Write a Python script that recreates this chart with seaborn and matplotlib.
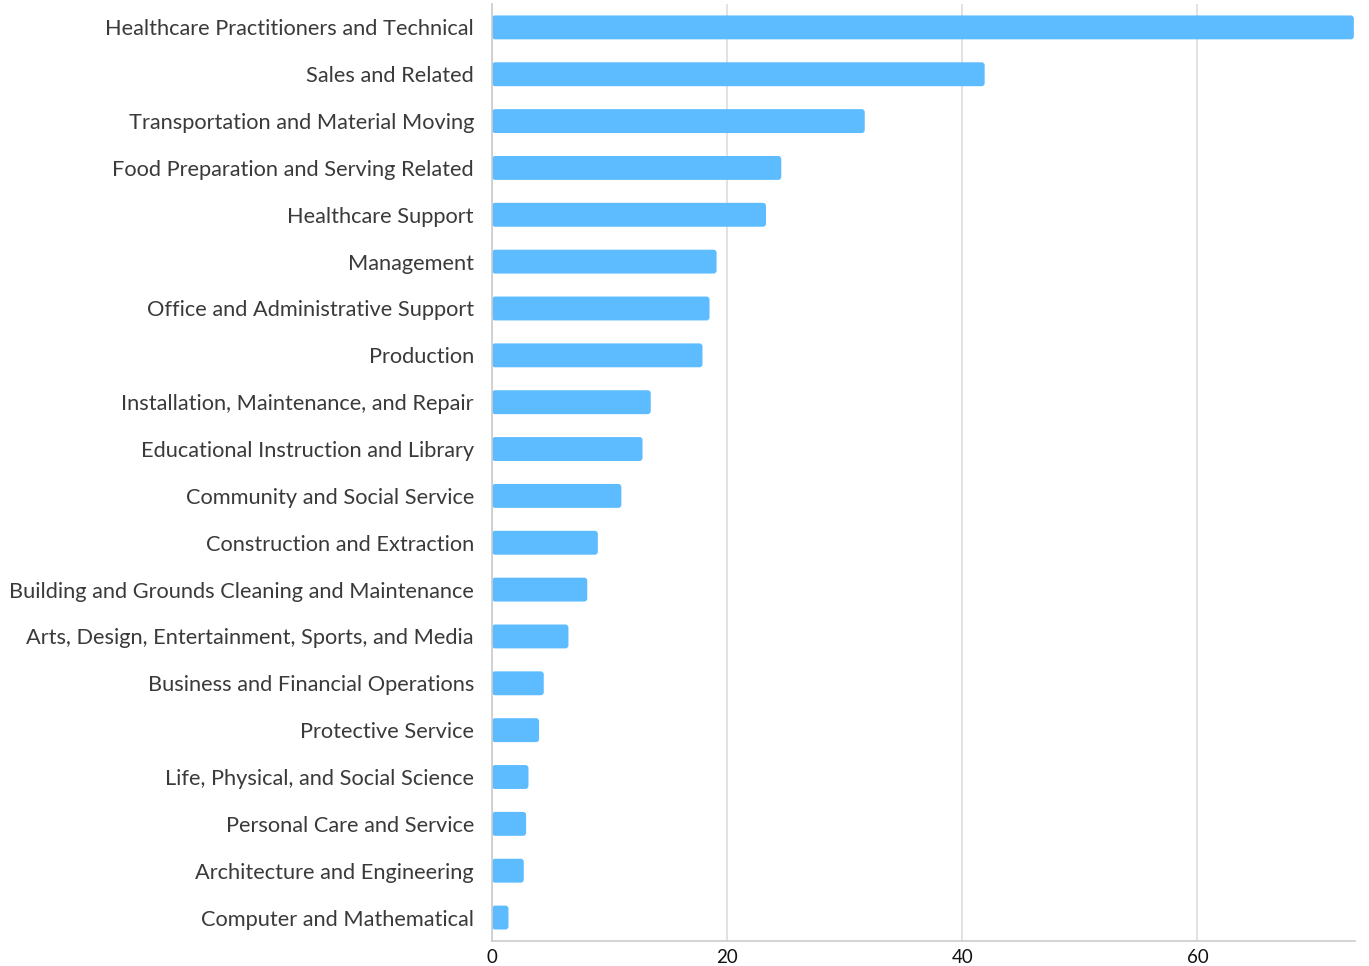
import matplotlib
matplotlib.use("Agg")
import matplotlib.pyplot as plt
import seaborn as sns
import pandas as pd
from matplotlib.patches import FancyBboxPatch

# occupation groups, top to bottom
occupations = [
    "Healthcare Practitioners and Technical",
    "Sales and Related",
    "Transportation and Material Moving",
    "Food Preparation and Serving Related",
    "Healthcare Support",
    "Management",
    "Office and Administrative Support",
    "Production",
    "Installation, Maintenance, and Repair",
    "Educational Instruction and Library",
    "Community and Social Service",
    "Construction and Extraction",
    "Building and Grounds Cleaning and Maintenance",
    "Arts, Design, Entertainment, Sports, and Media",
    "Business and Financial Operations",
    "Protective Service",
    "Life, Physical, and Social Science",
    "Personal Care and Service",
    "Architecture and Engineering",
    "Computer and Mathematical",
]
values = [73.3, 41.9, 31.7, 24.6, 23.3, 19.1, 18.5, 17.9, 13.5, 12.8,
          11.0, 9.0, 8.1, 6.5, 4.4, 4.0, 3.1, 2.9, 2.7, 1.4]
xticks = [0, 20, 40, 60]

df = pd.DataFrame({"occupation": occupations, "value": values})

sns.set_style("white")
plt.rcParams["font.family"] = ["Lato", "DejaVu Sans"]

fig = plt.figure(figsize=(13.69, 9.66), dpi=100)
ax = fig.add_axes([0.3594, 0.0259, 0.6304, 0.9700])

sns.barplot(data=df, x="value", y="occupation", color="#5cbcff",
            saturation=1, width=0.51, ax=ax)

# swap the plain bars for ones with slightly rounded corners
# (x: ~11.8 px per unit, y: ~46.9 px per unit)
for p in list(ax.patches):
    x0, y0 = p.get_x(), p.get_y()
    w, h = p.get_width(), p.get_height()
    p.remove()
    ax.add_patch(FancyBboxPatch((x0, y0), w, h,
                                boxstyle="round,pad=0,rounding_size=0.26",
                                mutation_aspect=0.25,
                                facecolor="#5cbcff", edgecolor="none", zorder=2))

ax.set_xlim(0, 73.4)
ax.set_ylim(19.5, -0.5)
ax.set_xticks(xticks)
ax.grid(axis="x", color="#dddddd", linewidth=1.2, zorder=0)
ax.set_axisbelow(True)
ax.set_xlabel("")
ax.set_ylabel("")
for s in ["top", "right"]:
    ax.spines[s].set_visible(False)
for s in ["left", "bottom"]:
    ax.spines[s].set_color("#cccccc")
    ax.spines[s].set_linewidth(1.2)
ax.tick_params(axis="y", length=0, pad=13, labelsize=15.7, labelcolor="#3a3a3a")
ax.tick_params(axis="x", length=0, pad=6, labelsize=13.5, labelcolor="#111111")

fig.savefig("out.png", dpi=100)
